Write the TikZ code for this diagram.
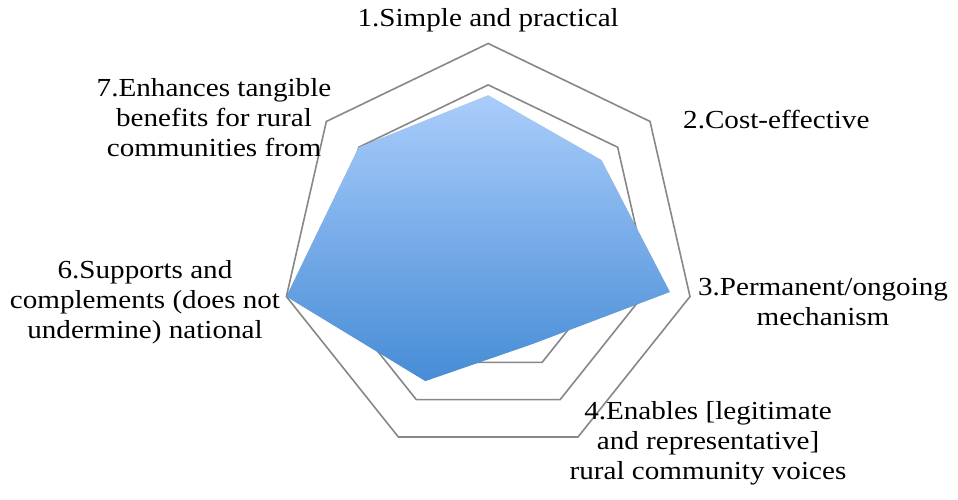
\documentclass[tikz,border=0pt]{standalone}
\usepackage{fontspec}
\setmainfont[FakeStretch=1.12]{Liberation Serif}
\definecolor{gridgray}{RGB}{135,135,135}
\definecolor{topblue}{RGB}{170,205,251}
\definecolor{botblue}{RGB}{70,140,214}
\begin{document}
\begin{tikzpicture}[
  ring/.style={draw=gridgray, line width=1.6pt, line join=miter},
  lbl/.style={font=\fontsize{26}{30}\selectfont, align=center, inner sep=0pt, text=black},
  shadowpart/.style={fill=black, opacity=0.07}
]
\useasboundingbox (-488.2pt,-249.5pt) rectangle (469.8pt,250.5pt);
\def\A{51.428571}
% grid rings
\foreach \r in {124.2,165.6,207} {
  \draw[ring] (90:\r pt) foreach \k in {1,...,6} { -- (90-\k*\A:\r pt) } -- cycle;
}
% data vertices
\coordinate (d1) at (90:155.2pt);
\coordinate (d2) at (90-1*\A:144.9pt);
\coordinate (d3) at (90-2*\A:186.3pt);
\coordinate (d4) at (90-3*\A:103.5pt);
\coordinate (d5) at (90-4*\A:144.9pt);
\coordinate (d6) at (90-5*\A:207pt);
\coordinate (d7) at (90-6*\A:165.6pt);
% soft shadow
\foreach \s in {1,2,3,4} {
  \fill[shadowpart, xshift=0.6*\s pt, yshift=-1.1*\s pt] (d1) -- (d2) -- (d3) -- (d4) -- (d5) -- (d6) -- (d7) -- cycle;
}
% data polygon
\path[top color=topblue, bottom color=botblue] (d1) -- (d2) -- (d3) -- (d4) -- (d5) -- (d6) -- (d7) -- cycle;
% labels
\node[lbl] (l1) at (0pt,230.5pt) {1.Simple and practical};
\node[lbl, anchor=west] (l2) at (194.8pt,130.5pt) {2.Cost-effective};
\node[lbl] (l3) at (334.8pt,-51.5pt) {3.Permanent/ongoing\\mechanism};
\node[lbl] (l4) at (219.8pt,-192.5pt) {4.Enables [legitimate\\and representative]\\rural community voices};
\node[lbl] (l6) at (-343.2pt,-51.5pt) {6.Supports and\\complements (does not\\undermine) national};
\node[lbl] (l7) at (-274.2pt,132.5pt) {7.Enhances tangible\\benefits for rural\\communities from};
\end{tikzpicture}
\end{document}
